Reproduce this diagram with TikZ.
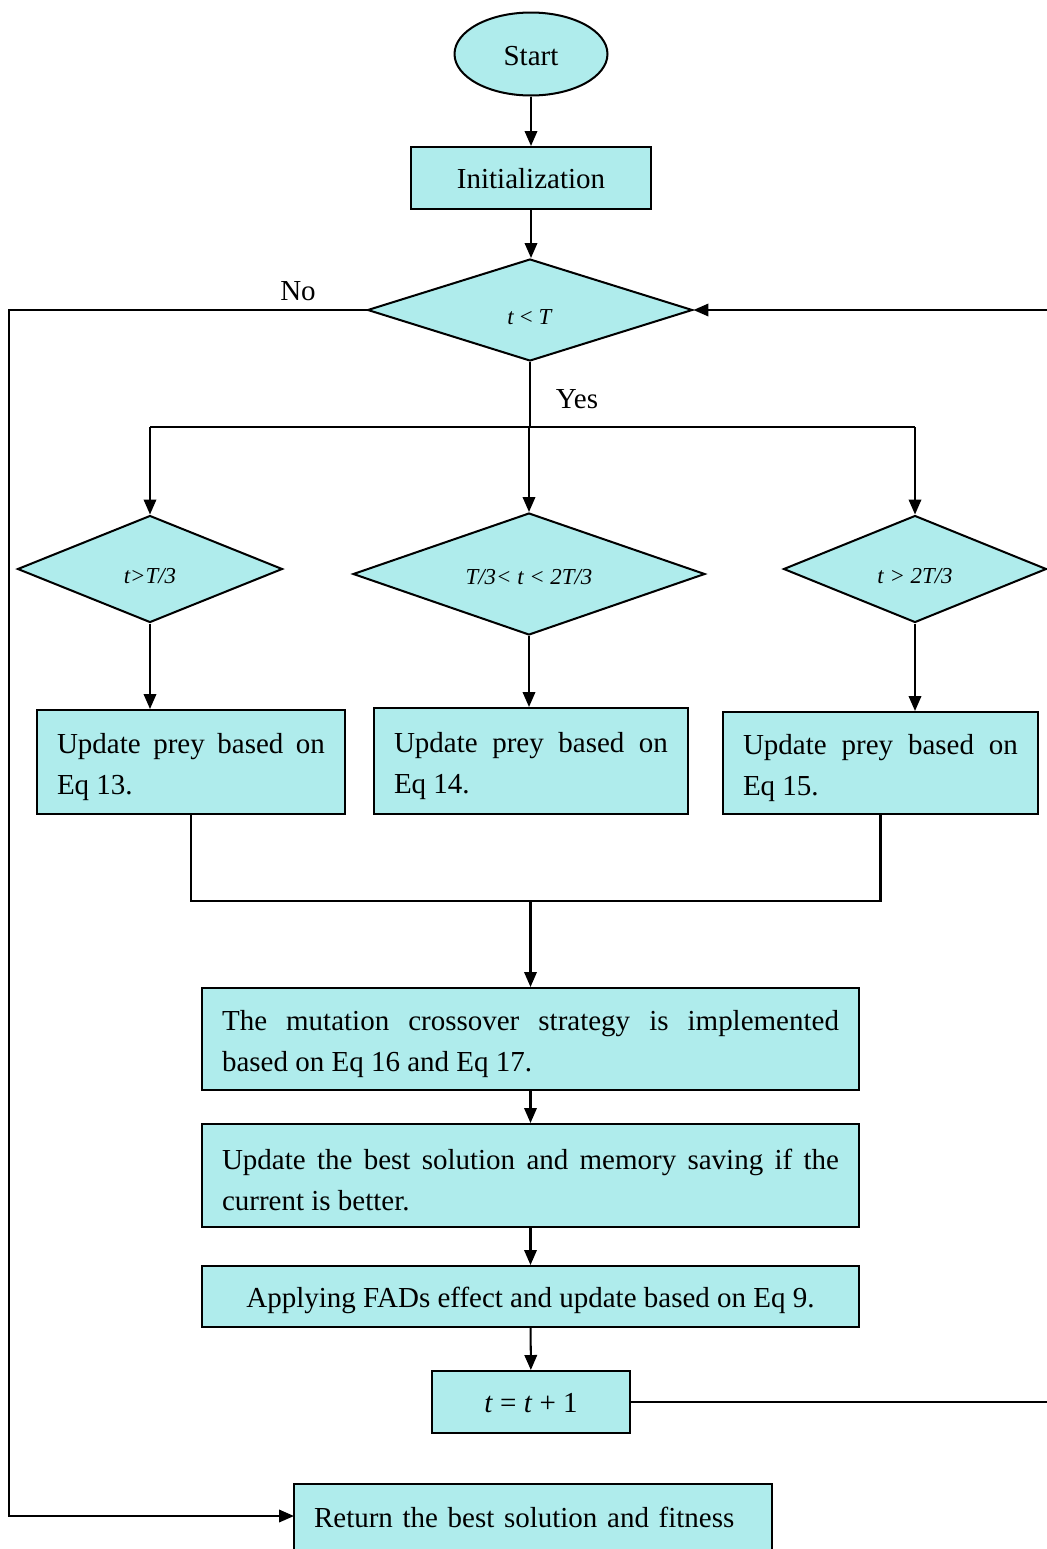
\documentclass[tikz,border=0pt]{standalone}
\usepackage{fontspec}
\setmainfont{Liberation Serif}
\usepackage{tikz}
\usetikzlibrary{positioning,arrows.meta,shapes.geometric}
\definecolor{boxfill}{RGB}{175,236,236}

\begin{document}
\begin{tikzpicture}[
  x=0.02cm, y=-0.02cm,
  font=\fontsize{16.5pt}{23.3pt}\selectfont,
  box/.style={
    draw=black,
    line width=1.15pt,
    fill=boxfill,
    inner xsep=0.4cm,
    inner ysep=0pt,
    text height=13pt,
    text depth=0.5pt
  },
  textbox/.style={
    draw=black,
    line width=1.15pt,
    fill=boxfill,
    inner xsep=0.4cm,
    inner ysep=0pt,
    align=justify,
    execute at begin node={\rule{0pt}{17pt}}
  },
  decision/.style={
    diamond,
    aspect=3,
    draw=black,
    line width=1.15pt,
    fill=boxfill,
    inner sep=0pt,
    text height=16pt,
    text depth=0pt,
    font=\fontsize{13pt}{15pt}\selectfont
  },
  arrow/.style={-{Triangle[length=0.3cm,width=0.25cm]}, line width=1.15pt},
  link/.style={line width=1.15pt}
]
\useasboundingbox (0,0) rectangle (1046,1549);

% Debut et initialisation
\node[ellipse, draw=black, line width=1.15pt, fill=boxfill, text height=13pt, text depth=0pt,
      minimum width=3.06cm, minimum height=1.66cm] (start) at (531,54) {Start};
\node[box, minimum width=4.82cm, minimum height=1.24cm] (init) at (531,178) {Initialization};
\node[decision, minimum width=6.5cm, minimum height=2.04cm] (cond) at (530,310) {\textit{t} < \textit{T}};

% Trois branches
\node[decision, minimum width=5.3cm, minimum height=2.14cm] (phaseA) at (150,569) {\itshape t>T/3};
\node[decision, minimum width=7.04cm, minimum height=2.44cm, text height=12pt] (phaseB) at (529,574) {\itshape T/3< t < 2T/3};
\node[decision, minimum width=5.26cm, minimum height=2.14cm] (phaseC) at (915,569) {\itshape t > 2T/3};

\node[textbox, text width=5.36cm, minimum height=2.08cm] (updA) at (191,762) {Update prey based on\linebreak Eq 13.};
\node[textbox, text width=5.48cm, minimum height=2.12cm] (updB) at (531,761) {Update prey based on\linebreak Eq 14.};
\node[textbox, text width=5.5cm, minimum height=2.04cm] (updC) at (880.5,763) {Update prey based on\linebreak Eq 15.};

% Suite commune
\node[textbox, text width=12.34cm, minimum height=2.04cm] (mutate) at (530.5,1039)
  {The mutation crossover strategy is implemented\linebreak based on Eq 16 and Eq 17.};
\node[textbox, text width=12.34cm, minimum height=2.06cm] (best) at (530.5,1175.5)
  {Update the best solution and memory saving if the\linebreak current is better.};
\node[box, minimum width=13.14cm, minimum height=1.22cm] (fads) at (530.5,1296.5)
  {Applying FADs effect and update based on Eq 9.};
\node[box, minimum width=3.96cm, minimum height=1.24cm] (incr) at (531,1402)
  {\textit{t} = \textit{t} + 1};
\node[box, anchor=north, text width=8.76cm, align=left, inner ysep=0.45cm,
      text height=12pt, text depth=1cm] (result) at (533,1483) {Return the best solution and fitness};

% Etiquettes
\node (nolabel) at (298,291) {No};
\node (yeslabel) at (577,399) {Yes};

\coordinate (fork) at (529,427);
\coordinate (merge) at (530.5,901);
\coordinate (retin) at (294,1516);

% Fleches
\draw[arrow] (start) -- (init);
\draw[arrow] (init) -- (init |- cond.north);
\draw[link] (cond.south) -- (cond.south |- fork);
\draw[link] (150,427) -- (915,427);
\draw[arrow] (150,427) -- (phaseA.north);
\draw[arrow] (fork) -- (phaseB.north);
\draw[arrow] (915,427) -- (phaseC.north);
\draw[arrow] (phaseA.south) -- (phaseA.south |- updA.north);
\draw[arrow] (phaseB.south) -- (phaseB.south |- updB.north);
\draw[arrow] (phaseC.south) -- (phaseC.south |- updC.north);
\draw[link] (updA.south) |- (merge);
\draw[link] (updC.south) |- (merge);
\draw[arrow] (merge) -- (mutate);
\draw[arrow] (mutate) -- (best);
\draw[arrow] (best) -- (fads);
\draw[arrow] (fads) -- (incr);
\draw[arrow] (incr.east) -- (1060,1402) -- (1060,310) -- (cond.east);
\draw[arrow] (cond.west) -- (9,310) |- (retin);
\end{tikzpicture}
\end{document}
